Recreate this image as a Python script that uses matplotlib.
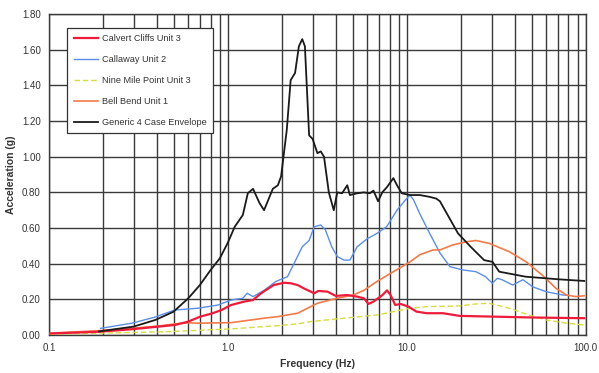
import matplotlib
matplotlib.use("Agg")
import matplotlib.pyplot as plt
from matplotlib.ticker import FixedLocator, NullFormatter, FixedFormatter
import numpy as np

# ---- data ----
calvert_f = [0.1, 0.19, 0.29, 0.41, 0.505, 0.6, 0.70, 0.81, 0.92, 1.04, 1.23, 1.38, 1.53, 1.8, 2.06,
             2.24, 2.45, 2.67, 3.03, 3.2, 3.6, 4.0, 4.64, 5.27, 5.74, 6.1, 6.5, 7.3, 7.74, 8.1, 8.6,
             9.2, 10.2, 11.3, 12.9, 15.9, 19.7, 30, 50, 98]
calvert_g = [0.008, 0.018, 0.032, 0.047, 0.056, 0.075, 0.103, 0.12, 0.14, 0.168, 0.187, 0.196, 0.234, 0.28, 0.293,
             0.29, 0.28, 0.26, 0.234, 0.247, 0.243, 0.219, 0.224, 0.215, 0.206, 0.174, 0.187, 0.224, 0.25, 0.224, 0.168,
             0.174, 0.159, 0.131, 0.122, 0.122, 0.107, 0.103, 0.098, 0.094]

callaway_f = [0.194, 0.29, 0.39, 0.505, 0.68, 0.88, 1.04, 1.21, 1.28, 1.38, 1.59, 1.85, 2.15, 2.39, 2.6,
              2.84, 3.03, 3.3, 3.5, 3.8, 4.08, 4.45, 4.8, 5.27, 6.0, 6.8, 7.7, 8.8, 9.8, 10.4, 10.9,
              11.8, 13.4, 15.3, 17.4, 20.5, 24.3, 27.5, 30, 32, 34, 39, 44.5, 50.5, 59.9, 74.5, 80]
callaway_g = [0.037, 0.066, 0.10, 0.14, 0.15, 0.168, 0.196, 0.206, 0.234, 0.215, 0.25, 0.30, 0.327, 0.42, 0.495,
              0.53, 0.607, 0.617, 0.59, 0.495, 0.44, 0.42, 0.42, 0.495, 0.54, 0.57, 0.607, 0.70, 0.757, 0.785, 0.757,
              0.68, 0.57, 0.46, 0.383, 0.365, 0.355, 0.327, 0.29, 0.318, 0.31, 0.28, 0.31, 0.27, 0.243, 0.224, 0.222]

ninemile_f = [0.1, 0.19, 0.45, 1.04, 1.59, 1.9, 2.45, 2.9, 4.45, 6.8, 8.4, 10.4, 12.9, 19.7, 24.3,
              28.7, 37.4, 48, 60, 78, 98]
ninemile_g = [0.005, 0.01, 0.018, 0.034, 0.047, 0.052, 0.062, 0.075, 0.094, 0.112, 0.131, 0.15, 0.159, 0.163, 0.174,
              0.178, 0.15, 0.112, 0.084, 0.066, 0.056]

bellbend_f = [0.1, 0.19, 0.29, 0.41, 0.505, 0.6, 0.68, 1.04, 1.59, 1.9, 2.45, 3.16, 4.08, 5.0, 5.74,
              6.8, 8.4, 10.4, 11.8, 14, 15.3, 18, 21.5, 24.3, 28.8, 37.4, 46.4, 57, 68, 78, 88, 98]
bellbend_g = [0.01, 0.024, 0.037, 0.05, 0.062, 0.068, 0.066, 0.069, 0.094, 0.103, 0.122, 0.178, 0.206, 0.224, 0.25,
              0.30, 0.355, 0.41, 0.45, 0.477, 0.477, 0.505, 0.523, 0.53, 0.514, 0.467, 0.41, 0.336, 0.262, 0.224, 0.215, 0.22]

generic_f = [0.19, 0.297, 0.392, 0.495, 0.60, 0.696, 0.8, 0.90, 1.0, 1.09, 1.21, 1.29, 1.38, 1.50, 1.59,
             1.78, 1.90, 1.98, 2.13, 2.24, 2.37, 2.49, 2.60, 2.69, 2.84, 2.97, 3.16, 3.3, 3.44, 3.66,
             3.9, 4.08, 4.34, 4.64, 4.8, 5.27, 5.74, 6.2, 6.5, 6.9, 7.28, 7.74, 8.4, 8.8, 9.36,
             10.4, 11.8, 13.4, 14.6, 15.3, 19.3, 22.7, 27, 30.1, 32.8, 46, 71, 98]
generic_g = [0.02, 0.047, 0.084, 0.13, 0.206, 0.28, 0.365, 0.43, 0.52, 0.607, 0.673, 0.795, 0.82, 0.74, 0.70,
             0.82, 0.84, 0.89, 1.15, 1.43, 1.47, 1.62, 1.66, 1.62, 1.12, 1.10, 1.02, 1.03, 1.0, 0.80,
             0.70, 0.80, 0.795, 0.84, 0.785, 0.795, 0.80, 0.795, 0.81, 0.75, 0.80, 0.83, 0.88, 0.84, 0.795,
             0.785, 0.785, 0.775, 0.765, 0.75, 0.57, 0.495, 0.42, 0.41, 0.355, 0.327, 0.312, 0.303]

x_ticks = [0.1, 1.0, 10.0, 100.0]
x_tick_labels = ["0.1", "1.0", "10.0", "100.0"]
y_ticks = [0.0, 0.2, 0.4, 0.6, 0.8, 1.0, 1.2, 1.4, 1.6, 1.8]

plt.rcParams['font.family'] = ['Liberation Sans', 'DejaVu Sans']

fig = plt.figure(figsize=(5.99, 3.73), dpi=100)
ax = fig.add_axes([0.082, 0.102, 0.896, 0.860])

ax.set_xscale('log')
ax.set_xlim(0.1, 100)
ax.set_ylim(0, 1.8)

gridc = '#3a3a3a'
ax.xaxis.set_major_locator(FixedLocator(x_ticks))
ax.xaxis.set_major_formatter(FixedFormatter(x_tick_labels))
minor = [m * d for d in (0.1, 1, 10) for m in range(2, 10)]
ax.xaxis.set_minor_locator(FixedLocator(minor))
ax.xaxis.set_minor_formatter(NullFormatter())
ax.set_yticks(y_ticks)
ax.set_yticklabels([f"{v:.2f}" for v in y_ticks])
ax.grid(True, which='both', axis='x', color=gridc, lw=1.0)
ax.grid(True, which='major', axis='y', color=gridc, lw=1.0)
ax.set_axisbelow(True)
ax.tick_params(which='both', length=0, labelsize=7, colors='#333333', pad=6)
for s in ax.spines.values():
    s.set_color(gridc)
    s.set_linewidth(1.0)

ax.plot(calvert_f, calvert_g, color='#ee1c3a', lw=1.6, label='Calvert Cliffs Unit 3', zorder=4)
ax.plot(callaway_f, callaway_g, color='#5b8ee6', lw=1.0, label='Callaway Unit 2', zorder=3)
ax.plot(ninemile_f, ninemile_g, color='#d8dc40', lw=1.0, ls=(0, (4, 2)), label='Nine Mile Point Unit 3', zorder=3)
ax.plot(bellbend_f, bellbend_g, color='#f47a4a', lw=1.2, label='Bell Bend Unit 1', zorder=3)
ax.plot(generic_f, generic_g, color='#1a1a1a', lw=1.3, label='Generic 4 Case Envelope', zorder=5)

ax.set_xlabel('Frequency (Hz)', fontsize=7.5, fontweight='bold', color='#333333', labelpad=4)
ax.set_ylabel('Acceleration (g)', fontsize=7.5, fontweight='bold', color='#333333', labelpad=4)

leg = ax.legend(loc='upper left', bbox_to_anchor=(0.034, 0.957), borderaxespad=0, fontsize=6.6,
                frameon=True, fancybox=False, edgecolor='#333333', framealpha=1, borderpad=0.7,
                labelspacing=1.3, handlelength=2.6, handletextpad=0.5)
leg.get_frame().set_linewidth(0.9)
for t in leg.get_texts():
    t.set_color('#333333')

fig.savefig('out.png', dpi=100)
